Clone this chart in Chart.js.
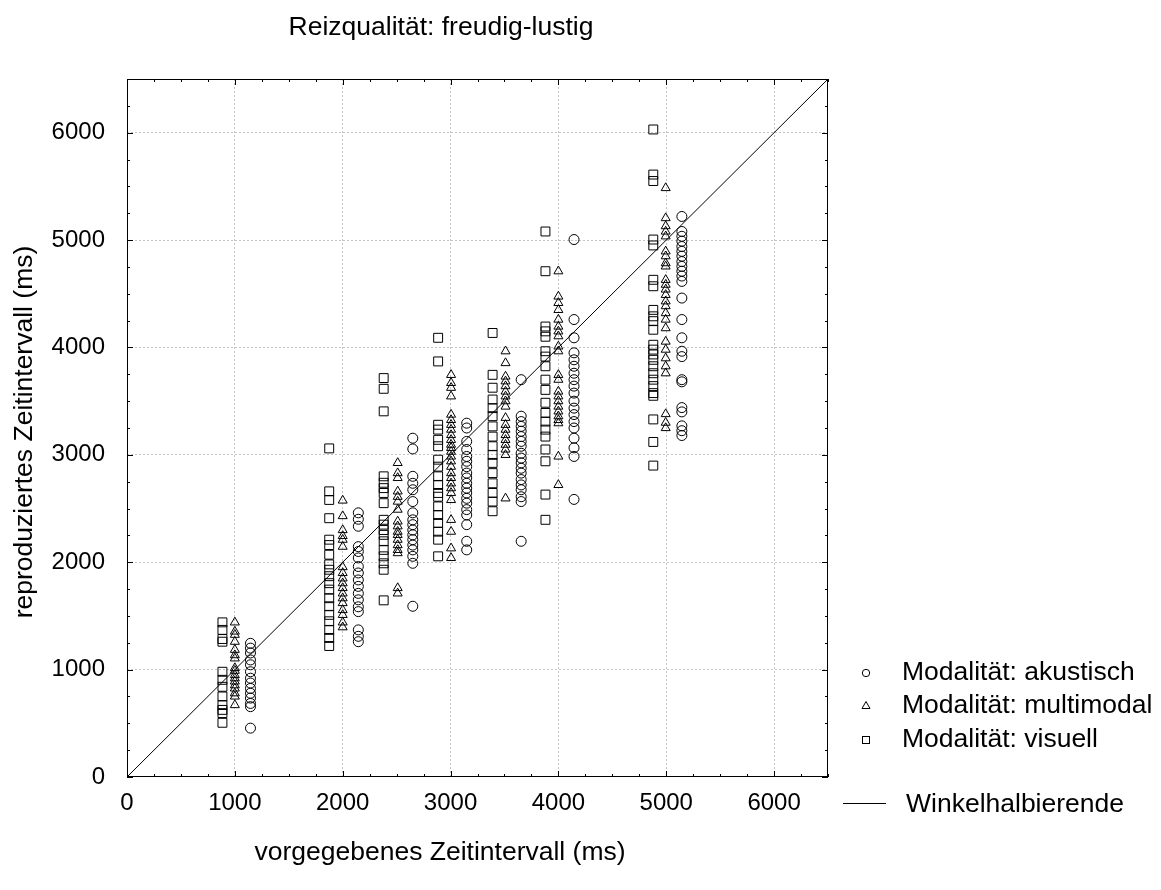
<!DOCTYPE html>
<html>
<head>
<meta charset="utf-8">
<script src="https://cdn.jsdelivr.net/npm/chart.js@4"></script>
<style>
  html, body { margin: 0; padding: 0; background: #fff; }
  #chart { display: block; }
</style>
</head>
<body>
<canvas id="chart" width="1161" height="890"></canvas>
<script>
// vorgegebene Intervalle (ms) und die x-Lage jeder Modalität daneben
const intervalle = [1000, 2000, 2500, 3000, 3500, 4000, 5000];
const xVisuell = [885, 1875, 2380, 2885, 3390, 3880, 4880];
const xMultimodal = [1000, 2000, 2510, 3005, 3510, 4000, 4995];
const xAkustisch = [1145, 2145, 2650, 3150, 3655, 4145, 5145];

// reproduzierte Intervalle (ms), eine Liste pro vorgegebenem Intervall
const visuell = [
  [1440, 1370, 1285, 1260, 980, 905, 840, 750, 670, 625, 595, 505],
  [3060, 2660, 2580, 2410, 2210, 2160, 2070, 1980, 1930, 1870, 1805, 1745, 1665, 1590, 1510, 1450, 1370, 1295, 1220],
  [3715, 3615, 3405, 2800, 2740, 2690, 2645, 2550, 2395, 2350, 2300, 2255, 2195, 2115, 2055, 1990, 1930, 1645],
  [4090, 3870, 3280, 3235, 3140, 3080, 2955, 2890, 2800, 2720, 2645, 2610, 2520, 2440, 2365, 2285, 2210, 2055],
  [4135, 3745, 3625, 3515, 3435, 3360, 3265, 3170, 3080, 3000, 2925, 2830, 2735, 2645, 2565, 2475],
  [5080, 4710, 4195, 4150, 4100, 3965, 3915, 3825, 3700, 3605, 3485, 3390, 3310, 3235, 3170, 3050, 2940, 2630, 2395],
  [6030, 5610, 5550, 5005, 4950, 4630, 4570, 4350, 4290, 4245, 4165, 4025, 3980, 3935, 3885, 3825, 3760, 3700, 3640, 3575, 3550, 3330, 3120, 2900]
];
const multimodal = [
  [1440, 1355, 1325, 1260, 1185, 1135, 1105, 1015, 990, 950, 920, 890, 855, 825, 780, 750, 670],
  [2575, 2430, 2300, 2245, 2210, 2145, 1955, 1900, 1850, 1805, 1760, 1710, 1665, 1620, 1555, 1510, 1440, 1395],
  [2925, 2830, 2785, 2660, 2610, 2565, 2490, 2380, 2335, 2285, 2255, 2210, 2160, 2115, 2085, 1760, 1710],
  [3745, 3670, 3625, 3545, 3375, 3325, 3280, 3235, 3185, 3140, 3095, 3065, 3030, 2985, 2940, 2890, 2830, 2785, 2735, 2690, 2645, 2580, 2395, 2285, 2130, 2040],
  [3965, 3855, 3730, 3685, 3640, 3590, 3545, 3500, 3450, 3345, 3280, 3235, 3185, 3140, 3095, 3050, 3000, 2595],
  [4710, 4475, 4415, 4350, 4260, 4195, 4150, 4105, 4010, 3965, 3745, 3700, 3590, 3545, 3500, 3450, 3405, 3360, 3325, 3295, 2985, 2720],
  [5485, 5205, 5130, 5080, 5035, 4895, 4850, 4785, 4755, 4630, 4585, 4540, 4490, 4430, 4385, 4320, 4260, 4180, 4055, 3980, 3900, 3825, 3760, 3380, 3300, 3250]
];
const akustisch = [
  [1245, 1200, 1155, 1090, 1045, 980, 920, 875, 825, 780, 735, 685, 655, 455],
  [2460, 2400, 2335, 2145, 2100, 2040, 1960, 1900, 1835, 1775, 1710, 1650, 1585, 1540, 1370, 1310, 1260],
  [3155, 3055, 2800, 2735, 2675, 2565, 2460, 2395, 2350, 2300, 2255, 2210, 2160, 2115, 2055, 1990, 1590],
  [3295, 3250, 3125, 3050, 2985, 2940, 2890, 2830, 2785, 2735, 2690, 2645, 2595, 2550, 2490, 2440, 2350, 2195, 2115],
  [3700, 3360, 3310, 3265, 3220, 3170, 3125, 3080, 3015, 2970, 2925, 2875, 2830, 2770, 2720, 2675, 2610, 2565, 2195],
  [5005, 4260, 4090, 3950, 3885, 3825, 3760, 3700, 3640, 3575, 3500, 3435, 3375, 3310, 3250, 3155, 3065, 2985, 2585],
  [5220, 5080, 5035, 4990, 4940, 4895, 4850, 4800, 4755, 4710, 4665, 4615, 4460, 4260, 4090, 3965, 3915, 3700, 3680, 3440, 3400, 3270, 3225, 3180]
];

// Winkelhalbierende y = x
const diagonale = [0, 6500];

// Achsenbeschriftung
const tickWerte = [0, 1000, 2000, 3000, 4000, 5000, 6000];
const achsenMax = 6500;

const SCHRIFT = '"Liberation Sans", Arial, sans-serif';

function punkte(xs, listen) {
  const out = [];
  listen.forEach((werte, i) => {
    werte.forEach(v => out.push({ x: xs[i], y: v }));
  });
  return out;
}

// Rahmen, Teilstriche nach innen, Titel und Legende
const rahmenPlugin = {
  id: 'rahmen',
  afterDraw(chart) {
    const { ctx, chartArea: a, scales: { x, y } } = chart;
    ctx.save();
    ctx.strokeStyle = '#000';
    ctx.lineWidth = 1;
    ctx.strokeRect(a.left + 0.5, a.top + 0.5, a.right - a.left - 1, a.bottom - a.top - 1);

    ctx.beginPath();
    for (let v = 0; v <= achsenMax; v += 250) {
      const len = v % 1000 === 0 ? 6 : 3;
      const px = Math.round(x.getPixelForValue(v)) + 0.5;
      const py = Math.round(y.getPixelForValue(v)) + 0.5;
      ctx.moveTo(px, a.bottom); ctx.lineTo(px, a.bottom - len);
      ctx.moveTo(px, a.top); ctx.lineTo(px, a.top + len);
      ctx.moveTo(a.left, py); ctx.lineTo(a.left + len, py);
      ctx.moveTo(a.right, py); ctx.lineTo(a.right - len, py);
    }
    ctx.stroke();

    ctx.fillStyle = '#000';
    ctx.font = '26.5px ' + SCHRIFT;
    ctx.textBaseline = 'middle';
    ctx.textAlign = 'center';
    ctx.fillText('Reizqualität: freudig-lustig', 441, 28);
    ctx.fillText('vorgegebenes Zeitintervall (ms)', 440, 853);
    ctx.save();
    ctx.translate(25, 432);
    ctx.rotate(-Math.PI / 2);
    ctx.fillText('reproduziertes Zeitintervall (ms)', 0, 0);
    ctx.restore();

    // Legende
    const sx = 866;
    ctx.textAlign = 'left';
    ctx.lineWidth = 1;
    ctx.beginPath();
    ctx.arc(sx, 673, 3.7, 0, Math.PI * 2);
    ctx.stroke();
    ctx.fillText('Modalität: akustisch', 902, 673);

    ctx.beginPath();
    ctx.moveTo(sx, 701.5);
    ctx.lineTo(sx + 4, 708.5);
    ctx.lineTo(sx - 4, 708.5);
    ctx.closePath();
    ctx.stroke();
    ctx.fillText('Modalität: multimodal', 902, 706);

    ctx.strokeRect(sx - 3.5, 736.5, 7, 7);
    ctx.fillText('Modalität: visuell', 902, 740);

    ctx.beginPath();
    ctx.moveTo(843, 803.5);
    ctx.lineTo(886, 803.5);
    ctx.stroke();
    ctx.fillText('Winkelhalbierende', 906, 805);
    ctx.restore();
  }
};

const punktStil = {
  pointBorderColor: '#000',
  pointBackgroundColor: 'rgba(0,0,0,0)',
  pointBorderWidth: 1,
  pointHoverRadius: 0
};

function achse(padding, fit) {
  return {
    type: 'linear',
    min: 0,
    max: achsenMax,
    afterBuildTicks: s => { s.ticks = tickWerte.map(v => ({ value: v })); },
    afterFit: fit,
    ticks: {
      padding: padding,
      maxRotation: 0,
      color: '#000',
      font: { family: SCHRIFT, size: 24 },
      callback: v => String(v)
    },
    grid: {
      drawTicks: false,
      lineWidth: 1,
      color: c => (c.tick && c.tick.value === 0 ? 'rgba(0,0,0,0)' : '#c4c4c4')
    },
    border: { display: false, dash: [2, 2] }
  };
}

new Chart(document.getElementById('chart'), {
  type: 'scatter',
  data: {
    datasets: [
      Object.assign({ label: 'Modalität: visuell', data: punkte(xVisuell, visuell), pointStyle: 'rect', pointRadius: 6.3 }, punktStil),
      Object.assign({ label: 'Modalität: multimodal', data: punkte(xMultimodal, multimodal), pointStyle: 'triangle', pointRadius: 5.2 }, punktStil),
      Object.assign({ label: 'Modalität: akustisch', data: punkte(xAkustisch, akustisch), pointStyle: 'circle', pointRadius: 5 }, punktStil),
      {
        type: 'line',
        label: 'Winkelhalbierende',
        data: diagonale.map(v => ({ x: v, y: v })),
        borderColor: '#000',
        borderWidth: 1,
        pointRadius: 0,
        fill: false
      }
    ]
  },
  options: {
    responsive: false,
    animation: false,
    devicePixelRatio: 1,
    layout: { padding: { left: 0, top: 79, right: 333, bottom: 0 } },
    plugins: { legend: { display: false }, title: { display: false }, tooltip: { enabled: false } },
    scales: {
      x: achse(12, s => { s.height = 113; }),
      y: achse(22, s => { s.width = 127; })
    }
  },
  plugins: [rahmenPlugin]
});
</script>
</body>
</html>
